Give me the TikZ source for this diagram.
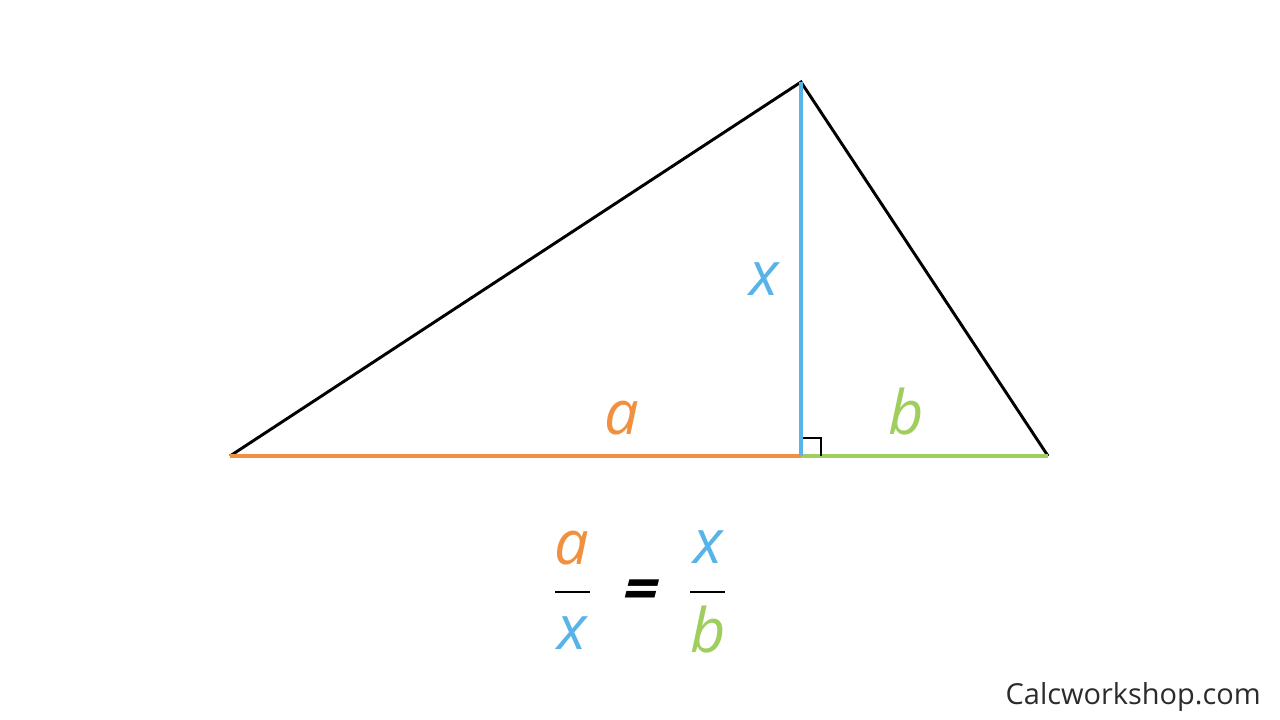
\documentclass[tikz,border=0pt]{standalone}
\usepackage{fontspec}
\setmainfont{Open Sans}
\definecolor{segA}{HTML}{EF9140}
\definecolor{segX}{HTML}{58B3E8}
\definecolor{segB}{HTML}{9FCE5C}
\definecolor{mark}{HTML}{2B2B2B}
\begin{document}
\begin{tikzpicture}[x=0.75pt,y=-0.75pt,
  side/.style={line width=2.2pt,black},
  seg/.style={line width=2.3pt},
  lbl/.style={inner sep=0pt,font=\fontsize{46}{50}\selectfont\itshape},
  bar/.style={line width=1.3pt,black}]
\useasboundingbox (0,0) rectangle (1280,720);
\coordinate (A) at (230,456);
\coordinate (T) at (801,82);
\coordinate (C) at (1048,456);
\coordinate (F) at (801,456);
\draw[side] (A) -- (T) -- (C);
\draw[seg,segA] (A) -- (F);
\draw[seg,segB] (F) -- (C);
\draw[seg,segX] (T) -- (F);
\draw[line width=1.6pt,black] ([xshift=1.7pt]F) ++(0,-18) -- ++(18,0) -- ++(0,18);
\node[lbl,segX] (lx) at (764,279) {x};
\node[lbl,segA] (la) at (622,418) {a};
\node[lbl,segB,anchor=base] (lb) at (906,434) {b};
% fraction
\node[lbl,segA] (fa) at (572,548) {a};
\draw[bar] (555,592) -- (590,592);
\node[lbl,segX] (fx) at (572,633) {x};
\node[inner sep=0pt,font=\fontsize{46}{50}\selectfont\bfseries\addfontfeature{FakeSlant=0.25}] (eq) at (637,595) {=};
\node[lbl,segX] (fx2) at (708,547) {x};
\draw[bar] (690,592) -- (725,592);
\node[lbl,segB,anchor=base] (fb) at (708,652) {b};
\node[inner sep=0pt,anchor=east,text=mark,font=\fontsize{21.7}{26}\selectfont] (wm) at (1261,697) {Calcworkshop.com};
\end{tikzpicture}
\end{document}
